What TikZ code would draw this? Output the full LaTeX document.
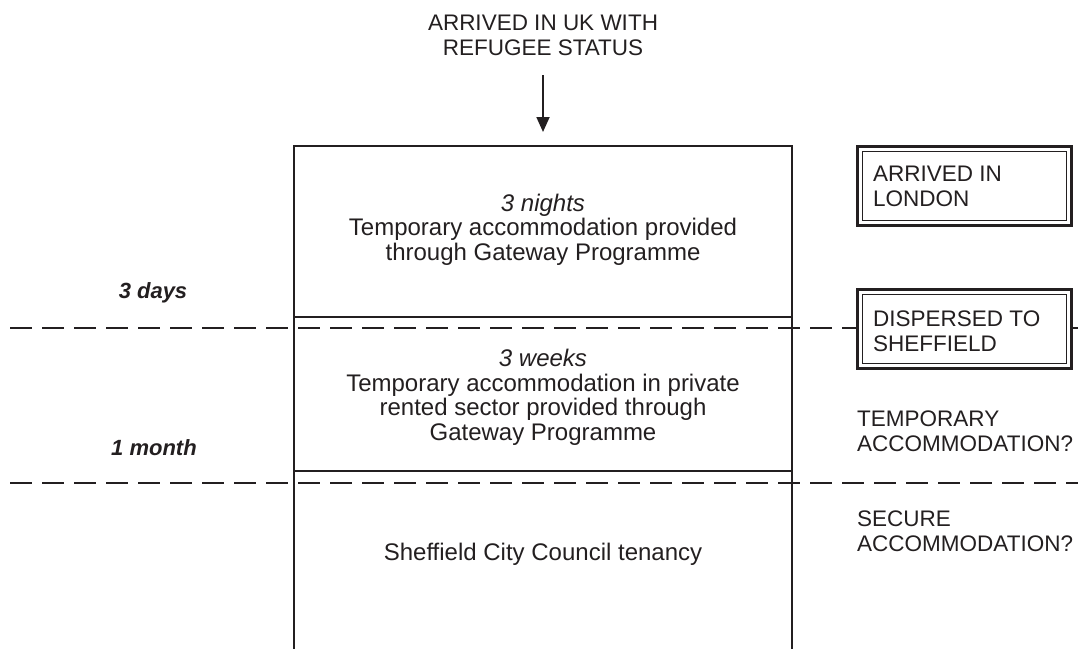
\documentclass[tikz,border=0pt]{standalone}
\usepackage{fontspec}
\setmainfont{Liberation Sans}
\usetikzlibrary{arrows.meta}
\definecolor{ink}{HTML}{231F20}
\tikzset{
  caps/.style={inner sep=0pt, text=ink, font=\fontsize{22.5}{25}\selectfont},
  body/.style={inner sep=0pt, text=ink, align=center, font=\fontsize{24}{24.5}\selectfont},
  timelbl/.style={inner sep=0pt, text=ink, font=\fontsize{22}{24}\selectfont\bfseries\itshape, anchor=base},
  frame/.style={draw=ink, line width=2pt},
  divider/.style={draw=ink, line width=2pt, dash pattern=on 22pt off 10pt},
  outerbox/.style={draw=ink, fill=white, line width=3pt},
  innerbox/.style={draw=ink, line width=1.5pt},
}
\begin{document}
\begin{tikzpicture}[x=1pt,y=-1pt]
\useasboundingbox (0,0) rectangle (1078,648);

% dashed time dividers
\draw[divider] (10,328) -- (1078,328);
\draw[divider] (10,483) -- (1078,483);

% main column
\draw[frame] (293.5,655) -- (293.5,145.5) -- (792,145.5) -- (792,655);
\draw[frame] (293.5,317) -- (792,317);
\draw[frame] (293.5,470.5) -- (792,470.5);

% top label and arrow
\node[caps, align=center, anchor=north] (start) at (543,14.5) {ARRIVED IN UK WITH\\REFUGEE STATUS};
\coordinate (arrtop) at (543,75);
\coordinate (arrbot) at (543,132);
\draw[ink, line width=1.8pt, -{Triangle[width=13pt,length=15pt]}] (arrtop) -- (arrbot);

% texts in the column
\node[body, anchor=north] (nights) at (543,193.5) {\itshape 3 nights\\Temporary accommodation provided\\through Gateway Programme};
\node[body, anchor=north] (weeks) at (543,349) {\itshape 3 weeks\\Temporary accommodation in private\\rented sector provided through\\Gateway Programme};
\node[body, anchor=base] (council) at (543,560) {Sheffield City Council tenancy};

% time labels
\node[timelbl] (days) at (153,298) {3 days};
\node[timelbl] (month) at (154,455) {1 month};

% double framed boxes
\draw[outerbox] (857.5,146.5) rectangle (1071.5,225.5);
\draw[innerbox] (862.5,151.5) rectangle (1066.5,220.5);
\node[caps, align=left, anchor=north west] (london) at (873,166) {ARRIVED IN\\LONDON};

\draw[outerbox] (857.5,289.5) rectangle (1071.5,368.5);
\draw[innerbox] (862.5,294.5) rectangle (1066.5,363.5);
\node[caps, align=left, anchor=north west] (sheffield) at (873,310.5) {DISPERSED TO\\SHEFFIELD};

% plain right labels
\node[caps, align=left, anchor=north west] (temp) at (857,410.5) {TEMPORARY\\ACCOMMODATION?};
\node[caps, align=left, anchor=north west] (secure) at (857,510.5) {SECURE\\ACCOMMODATION?};
\end{tikzpicture}
\end{document}
